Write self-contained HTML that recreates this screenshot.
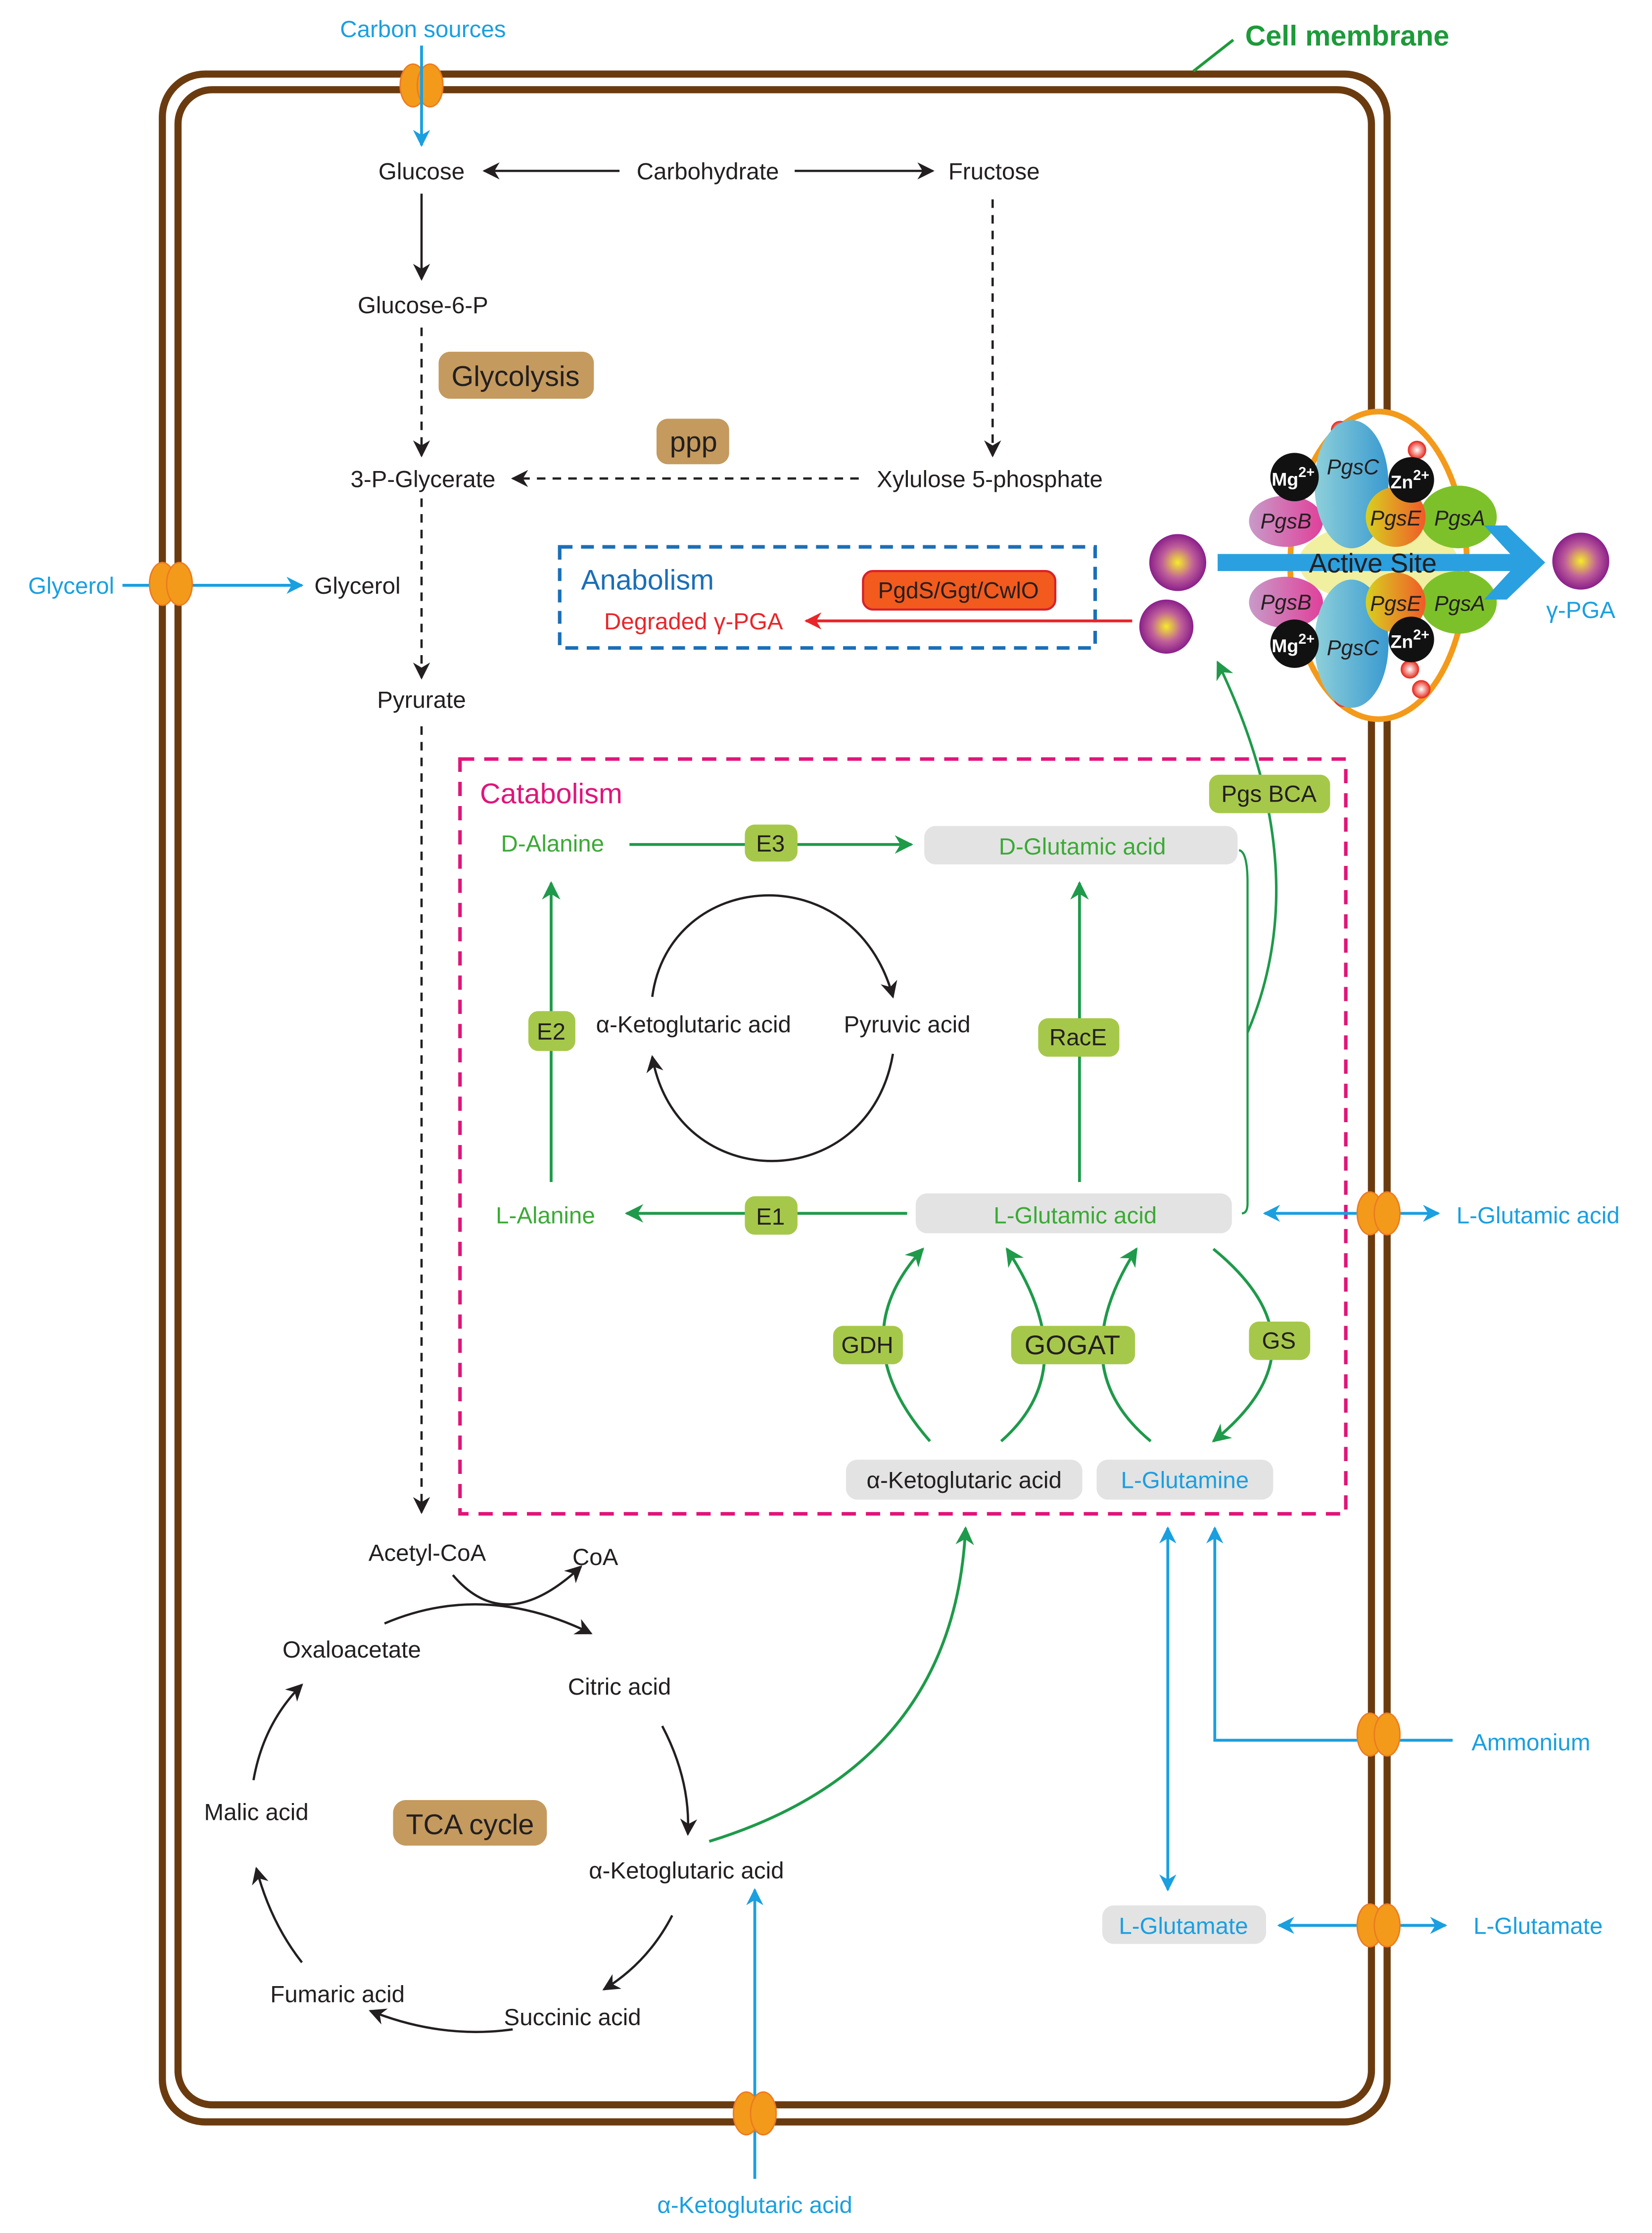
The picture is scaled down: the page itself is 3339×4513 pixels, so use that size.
<!DOCTYPE html>
<html><head><meta charset="utf-8">
<style>html,body{margin:0;padding:0;background:#fff}svg{display:block}</style></head>
<body>
<svg width="3339" height="4513" viewBox="0 0 1160 1568" preserveAspectRatio="none" xmlns="http://www.w3.org/2000/svg" font-family="Liberation Sans, sans-serif" font-size="16.5">
<defs>
<marker id="ak" viewBox="0 0 10 10" refX="9" refY="5" markerWidth="12" markerHeight="12" orient="auto-start-reverse" markerUnits="userSpaceOnUse"><path d="M0,0 L10,5 L0,10 L3,5z" fill="#231f20"/></marker>
<marker id="ag" viewBox="0 0 10 10" refX="9" refY="5" markerWidth="13" markerHeight="13" orient="auto-start-reverse" markerUnits="userSpaceOnUse"><path d="M0,0 L10,5 L0,10 L3,5z" fill="#1e9a4a"/></marker>
<marker id="ab" viewBox="0 0 10 10" refX="9" refY="5" markerWidth="12" markerHeight="12" orient="auto-start-reverse" markerUnits="userSpaceOnUse"><path d="M0,0 L10,5 L0,10 L3,5z" fill="#1a9fe0"/></marker>
<marker id="ar" viewBox="0 0 10 10" refX="9" refY="5" markerWidth="12" markerHeight="12" orient="auto-start-reverse" markerUnits="userSpaceOnUse"><path d="M0,0 L10,5 L0,10 L3,5z" fill="#e8262a"/></marker>
<radialGradient id="ball"><stop offset="0" stop-color="#f5ec2a"/><stop offset="0.55" stop-color="#c0609a"/><stop offset="1" stop-color="#8a1f8a"/></radialGradient>
<radialGradient id="red"><stop offset="0" stop-color="#fff"/><stop offset="1" stop-color="#e8362a"/></radialGradient>
<linearGradient id="pe" x1="0" x2="1"><stop offset="0" stop-color="#d8d020"/><stop offset="1" stop-color="#f05a28"/></linearGradient>
<linearGradient id="pb" x1="0" x2="1"><stop offset="0" stop-color="#c89ac8"/><stop offset="1" stop-color="#e0409a"/></linearGradient>
<linearGradient id="pc" x1="0" x2="1"><stop offset="0" stop-color="#8ed0da"/><stop offset="1" stop-color="#3a9ad0"/></linearGradient>
<g id="tp"><ellipse cx="-6" cy="0" rx="9" ry="15" fill="#f39a1a" stroke="#ee7a20"/><ellipse cx="6" cy="0" rx="9" ry="15" fill="#f39a1a" stroke="#ee7a20"/></g>
</defs>

<rect x="114" y="52" width="860" height="1438" rx="30" fill="none" stroke="#6b3b10" stroke-width="5"/>
<rect x="125" y="63" width="838" height="1415" rx="24" fill="none" stroke="#6b3b10" stroke-width="5"/>
<text x="946" y="32" fill="#1d9a3a" font-weight="bold" font-size="20" text-anchor="middle">Cell membrane</text>
<line x1="838" y1="50" x2="866" y2="28" stroke="#1d9a3a" stroke-width="2"/>

<text x="297" y="26" fill="#1a9fe0" text-anchor="middle">Carbon sources</text>
<use href="#tp" x="296" y="60"/>
<line x1="296" y1="32" x2="296" y2="102" stroke="#1a9fe0" stroke-width="2" marker-end="url(#ab)"/>

<g fill="#231f20" text-anchor="middle">
<text x="296" y="126">Glucose</text>
<text x="497" y="126">Carbohydrate</text>
<text x="698" y="126">Fructose</text>
<text x="297" y="220">Glucose-6-P</text>
<text x="297" y="342">3-P-Glycerate</text>
<text x="695" y="342">Xylulose 5-phosphate</text>
<text x="251" y="417">Glycerol</text>
<text x="296" y="497">Pyrurate</text>
</g>
<g stroke="#231f20" stroke-width="1.6" fill="none">
<line x1="435" y1="120" x2="340" y2="120" marker-end="url(#ak)"/>
<line x1="558" y1="120" x2="655" y2="120" marker-end="url(#ak)"/>
<line x1="296" y1="136" x2="296" y2="196" marker-end="url(#ak)"/>
<line x1="296" y1="230" x2="296" y2="320" stroke-dasharray="6,5" marker-end="url(#ak)"/>
<line x1="697" y1="140" x2="697" y2="320" stroke-dasharray="6,5" marker-end="url(#ak)"/>
<line x1="603" y1="336" x2="360" y2="336" stroke-dasharray="6,5" marker-end="url(#ak)"/>
<line x1="296" y1="350" x2="296" y2="476" stroke-dasharray="6,5" marker-end="url(#ak)"/>
<line x1="296" y1="510" x2="296" y2="1062" stroke-dasharray="6,5" marker-end="url(#ak)"/>
</g>
<rect x="308" y="247" width="109" height="33" rx="8" fill="#c49a5e"/>
<text x="362" y="271" text-anchor="middle" font-size="20" fill="#231f20">Glycolysis</text>
<rect x="461" y="294" width="51" height="32" rx="8" fill="#c49a5e"/>
<text x="487" y="317" text-anchor="middle" font-size="20" fill="#231f20">ppp</text>

<text x="50" y="417" fill="#1a9fe0" text-anchor="middle">Glycerol</text>
<line x1="86" y1="411" x2="212" y2="411" stroke="#1a9fe0" stroke-width="2" marker-end="url(#ab)"/>
<use href="#tp" x="120" y="410"/>

<rect x="393" y="384" width="376" height="71" fill="none" stroke="#1a6fb8" stroke-width="2.5" stroke-dasharray="9,6"/>
<text x="408" y="414" fill="#1a6fb8" font-size="20">Anabolism</text>
<rect x="606" y="401" width="135" height="27" rx="7" fill="#f25a1e" stroke="#d9202a" stroke-width="1.5"/>
<text x="673" y="420" text-anchor="middle" fill="#231f20" font-size="16">PgdS/Ggt/CwlO</text>
<text x="487" y="442" text-anchor="middle" fill="#e8262a">Degraded γ-PGA</text>
<line x1="795" y1="436" x2="566" y2="436" stroke="#e8262a" stroke-width="2" marker-end="url(#ar)"/>
<circle cx="827" cy="395" r="20" fill="url(#ball)"/>
<circle cx="819" cy="440" r="19" fill="url(#ball)"/>

<ellipse cx="968" cy="397" rx="62" ry="108" fill="#fff" stroke="#f39a1a" stroke-width="4"/>
<ellipse cx="968" cy="395" rx="56" ry="28" fill="#f0f0a0"/>
<circle cx="941" cy="302" r="6" fill="url(#red)" stroke="#e8362a"/>
<circle cx="995" cy="316" r="6" fill="url(#red)" stroke="#e8362a"/>
<circle cx="998" cy="484" r="6" fill="url(#red)" stroke="#e8362a"/>
<circle cx="943" cy="490" r="6" fill="url(#red)" stroke="#e8362a"/>
<circle cx="990" cy="470" r="6" fill="url(#red)" stroke="#e8362a"/>
<g font-style="italic" font-size="15" fill="#231f20" text-anchor="middle">
<ellipse cx="903" cy="366" rx="26" ry="18" fill="url(#pb)"/><text x="903" y="371">PgsB</text>
<ellipse cx="903" cy="423" rx="26" ry="18" fill="url(#pb)"/><text x="903" y="428">PgsB</text>
<ellipse cx="949" cy="340" rx="26" ry="45" fill="url(#pc)"/><text x="950" y="333">PgsC</text>
<ellipse cx="949" cy="452" rx="26" ry="45" fill="url(#pc)"/><text x="950" y="460">PgsC</text>
<ellipse cx="1024" cy="363" rx="27" ry="22" fill="#7dc12a"/><text x="1025" y="369">PgsA</text>
<ellipse cx="1024" cy="423" rx="27" ry="22" fill="#7dc12a"/><text x="1025" y="429">PgsA</text>
<circle cx="980" cy="363" r="21" fill="url(#pe)"/><text x="980" y="369">PgsE</text>
<circle cx="980" cy="423" r="21" fill="url(#pe)"/><text x="980" y="429">PgsE</text>
</g>
<g fill="#fff" font-weight="bold" font-size="13" text-anchor="middle">
<circle cx="909" cy="335" r="17" fill="#111"/><text x="908" y="341">Mg<tspan font-size="10" dy="-6">2+</tspan></text>
<circle cx="991" cy="337" r="16" fill="#111"/><text x="990" y="343">Zn<tspan font-size="10" dy="-6">2+</tspan></text>
<circle cx="909" cy="452" r="17" fill="#111"/><text x="908" y="458">Mg<tspan font-size="10" dy="-6">2+</tspan></text>
<circle cx="991" cy="449" r="16" fill="#111"/><text x="990" y="455">Zn<tspan font-size="10" dy="-6">2+</tspan></text>
</g>
<rect x="855" y="389" width="212" height="12" fill="#2aa0e0"/>
<path d="M1042,369 L1058,369 L1085,395 L1058,421 L1042,421 L1066,395z" fill="#2aa0e0"/>
<text x="964" y="402" text-anchor="middle" font-size="19" fill="#231f20">Active Site</text>
<circle cx="1110" cy="394" r="20" fill="url(#ball)"/>
<text x="1110" y="434" text-anchor="middle" fill="#1a9fe0">γ-PGA</text>

<rect x="323" y="533" width="622" height="530" fill="none" stroke="#e0157a" stroke-width="2.5" stroke-dasharray="10,7"/>
<text x="337" y="564" fill="#e0157a" font-size="20">Catabolism</text>
<g fill="#3aaa35" text-anchor="middle">
<text x="388" y="598">D-Alanine</text>
<text x="383" y="859">L-Alanine</text>
</g>
<rect x="649" y="580" width="220" height="27" rx="8" fill="#e3e3e3"/>
<text x="760" y="600" text-anchor="middle" fill="#3aaa35">D-Glutamic acid</text>
<rect x="643" y="838" width="222" height="28" rx="8" fill="#e3e3e3"/>
<text x="755" y="859" text-anchor="middle" fill="#3aaa35">L-Glutamic acid</text>
<g stroke="#1e9a4a" stroke-width="2" fill="none">
<line x1="442" y1="593" x2="640" y2="593" marker-end="url(#ag)"/>
<line x1="387" y1="830" x2="387" y2="620" marker-end="url(#ag)"/>
<line x1="758" y1="830" x2="758" y2="620" marker-end="url(#ag)"/>
<line x1="637" y1="852" x2="440" y2="852" marker-end="url(#ag)"/>
<path d="M870,597 Q876,598 876,620 L876,725 L876,845 Q876,852 872,852" stroke-width="1.5"/>
<path d="M876,725 Q925,610 855,465" marker-end="url(#ag)" stroke-width="1.8"/>
<path d="M653,1012 Q590,940 648,877" marker-end="url(#ag)"/>
<path d="M703,1012 Q762,960 707,877" marker-end="url(#ag)"/>
<path d="M808,1012 Q745,960 798,877" marker-end="url(#ag)"/>
<path d="M852,877 Q935,945 852,1012" marker-end="url(#ag)"/>
<path d="M498,1293 Q670,1240 678,1073" marker-end="url(#ag)"/>
</g>
<g fill="#a6c84a">
<rect x="523" y="579" width="37" height="26" rx="7"/>
<rect x="371" y="710" width="33" height="28" rx="7"/>
<rect x="729" y="715" width="57" height="27" rx="7"/>
<rect x="523" y="840" width="37" height="27" rx="7"/>
<rect x="849" y="544" width="85" height="27" rx="7"/>
<rect x="585" y="931" width="49" height="27" rx="7"/>
<rect x="710" y="931" width="87" height="27" rx="7"/>
<rect x="877" y="928" width="43" height="27" rx="7"/>
</g>
<g fill="#231f20" text-anchor="middle">
<text x="541" y="598">E3</text>
<text x="387" y="730">E2</text>
<text x="757" y="734">RacE</text>
<text x="541" y="860">E1</text>
<text x="891" y="563">Pgs BCA</text>
<text x="609" y="950">GDH</text>
<text x="753" y="951" font-size="19">GOGAT</text>
<text x="898" y="947">GS</text>
<text x="487" y="725">α-Ketoglutaric acid</text>
<text x="637" y="725">Pyruvic acid</text>
</g>
<g stroke="#231f20" stroke-width="1.6" fill="none">
<path d="M458,700 C470,610 600,600 627,700" marker-end="url(#ak)"/>
<path d="M627,740 C610,840 475,840 458,742" marker-end="url(#ak)"/>
</g>
<rect x="594" y="1025" width="166" height="28" rx="8" fill="#e3e3e3"/>
<text x="677" y="1045" text-anchor="middle" fill="#231f20">α-Ketoglutaric acid</text>
<rect x="770" y="1025" width="124" height="28" rx="8" fill="#e3e3e3"/>
<text x="832" y="1045" text-anchor="middle" fill="#1a9fe0">L-Glutamine</text>

<line x1="888" y1="852" x2="1010" y2="852" stroke="#1a9fe0" stroke-width="2" marker-start="url(#ab)" marker-end="url(#ab)"/>
<use href="#tp" x="968" y="852"/>
<text x="1080" y="859" text-anchor="middle" fill="#1a9fe0">L-Glutamic acid</text>
<polyline points="1020,1222 853,1222 853,1073" fill="none" stroke="#1a9fe0" stroke-width="2" marker-end="url(#ab)"/>
<use href="#tp" x="968" y="1218"/>
<text x="1075" y="1229" text-anchor="middle" fill="#1a9fe0">Ammonium</text>
<line x1="820" y1="1073" x2="820" y2="1327" stroke="#1a9fe0" stroke-width="2" marker-start="url(#ab)" marker-end="url(#ab)"/>
<rect x="774" y="1338" width="115" height="27" rx="8" fill="#e3e3e3"/>
<text x="831" y="1358" text-anchor="middle" fill="#1a9fe0">L-Glutamate</text>
<line x1="898" y1="1352" x2="1015" y2="1352" stroke="#1a9fe0" stroke-width="2" marker-start="url(#ab)" marker-end="url(#ab)"/>
<use href="#tp" x="968" y="1352"/>
<text x="1080" y="1358" text-anchor="middle" fill="#1a9fe0">L-Glutamate</text>
<line x1="530" y1="1530" x2="530" y2="1327" stroke="#1a9fe0" stroke-width="2" marker-end="url(#ab)"/>
<use href="#tp" x="530" y="1484"/>
<text x="530" y="1554" text-anchor="middle" fill="#1a9fe0">α-Ketoglutaric acid</text>

<g fill="#231f20" text-anchor="middle">
<text x="300" y="1096">Acetyl-CoA</text>
<text x="418" y="1099">CoA</text>
<text x="247" y="1164">Oxaloacetate</text>
<text x="435" y="1190">Citric acid</text>
<text x="180" y="1278">Malic acid</text>
<text x="482" y="1319">α-Ketoglutaric acid</text>
<text x="237" y="1406">Fumaric acid</text>
<text x="402" y="1422">Succinic acid</text>
</g>
<rect x="276" y="1264" width="108" height="32" rx="9" fill="#c49a5e"/>
<text x="330" y="1288" text-anchor="middle" font-size="20" fill="#231f20">TCA cycle</text>
<g stroke="#231f20" stroke-width="1.6" fill="none">
<path d="M318,1106 Q355,1150 408,1100" marker-end="url(#ak)"/>
<path d="M270,1140 Q340,1110 415,1147" marker-end="url(#ak)"/>
<path d="M465,1212 Q485,1250 483,1288" marker-end="url(#ak)"/>
<path d="M472,1345 Q455,1378 424,1397" marker-end="url(#ak)"/>
<path d="M360,1425 Q310,1432 260,1412" marker-end="url(#ak)"/>
<path d="M212,1378 Q190,1350 180,1312" marker-end="url(#ak)"/>
<path d="M178,1250 Q185,1210 212,1183" marker-end="url(#ak)"/>
</g>
</svg>
</body></html>
